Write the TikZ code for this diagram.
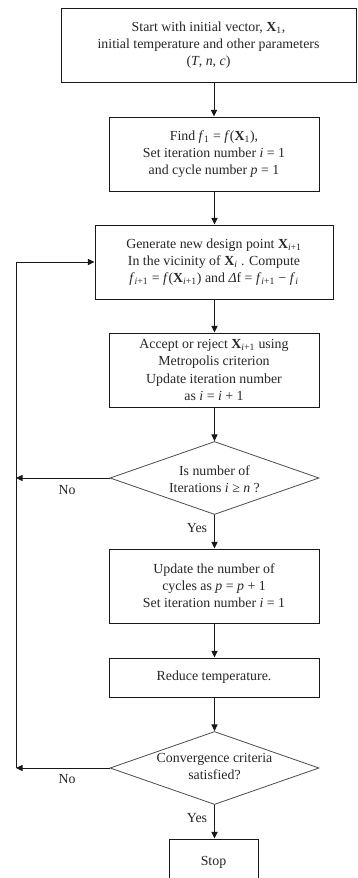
\documentclass[tikz,border=0pt]{standalone}
\usepackage{fontspec}
\setmainfont{Liberation Serif}
\usetikzlibrary{shapes.geometric,arrows.meta}
\def\u{0.75pt}
\tikzset{
  every node/.style={font=\fontsize{10.4}{12.8}\selectfont, text=black!85, align=center},
  box/.style={draw=black!90, line width=0.75pt, rectangle, inner sep=0pt},
  dia/.style={draw=black!70, line width=0.6pt, diamond, inner sep=0pt, minimum width=209*\u, minimum height=73*\u},
  arr/.style={line width=0.75pt, draw=black!90, -{Triangle[length=5pt,width=4.6pt]}},
  lab/.style={inner sep=0pt}
}
\begin{document}
\begin{tikzpicture}[x=\u, y=-\u]
\path[use as bounding box] (0,0) rectangle (357,878);
\node[box, minimum width=295*\u, minimum height=74*\u] (b1) at (208.5,45)
  {Start with initial vector, \textbf{X}\textsubscript{1},\\initial temperature and other parameters\\(\textit{T}, \textit{n}, \textit{c})};
\node[box, minimum width=210*\u, minimum height=74*\u] (b2) at (214,154)
  {Find \textit{f}\textsubscript{1} = \textit{f}(\textbf{X}\textsubscript{1}),\\Set iteration number \textit{i} = 1\\and cycle number \textit{p} = 1};
\node[box, minimum width=238*\u, minimum height=74*\u] (b3) at (214,262)
  {Generate new design point \textbf{X}\textsubscript{\textit{i}+1}\\In the vicinity of \textbf{X}\textsubscript{\textit{i}} . Compute\\\textit{f}\textsubscript{\textit{i}+1} = \textit{f}(\textbf{X}\textsubscript{\textit{i}+1}) and \textit{Δ}f = \textit{f}\textsubscript{\textit{i}+1} − \textit{f}\textsubscript{\textit{i}}};
\node[box, minimum width=210*\u, minimum height=74*\u] (b4) at (214,370)
  {Accept or reject \textbf{X}\textsubscript{\textit{i}+1} using\\Metropolis criterion\\Update iteration number\\as \textit{i} = \textit{i} + 1};
\node[dia, label={[align=center, yshift=-1pt]center:Is number of\\Iterations \textit{i} ≥ \textit{n} ?}] (d1) at (214.5,478) {};
\node[box, minimum width=210*\u, minimum height=74*\u] (b5) at (214,586)
  {Update the number of\\cycles as \textit{p} = \textit{p} + 1\\Set iteration number \textit{i} = 1};
\node[box, minimum width=210*\u, minimum height=39*\u] (b6) at (214,677.5) {Reduce temperature.};
\node[dia, label={[align=center, yshift=1pt]center:Convergence criteria\\satisfied?}] (d2) at (214.5,768) {};
\node[box, minimum width=89*\u, minimum height=50*\u, text depth=0pt, label={[yshift=1.5pt]center:Stop}] (stop) at (213.5,864) {};
\coordinate (loopT) at (16,262);
\coordinate (loopM) at (16,478);
\coordinate (loopB) at (16,768);
\draw[arr] (b1.south -| b2) -- (b2);
\draw[arr] (b2.south -| d1) -- (b3.north -| d1);
\draw[arr] (b3.south -| d1) -- (b4.north -| d1);
\draw[arr] (b4.south -| d1) -- (d1);
\draw[arr] (d1) -- (b5.north -| d1);
\draw[arr] (b5.south -| d1) -- (b6.north -| d1);
\draw[arr] (b6.south -| d1) -- (d2);
\draw[arr] (d2) -- (stop.north -| d2);
\draw[arr] (d1.west) -- (loopM);
\draw[arr] (d2.west) -- (loopB);
\draw[arr] (loopB) -- (loopT) -- (b3.west);
\node[lab] (no1) at (67,490) {No};
\node[lab] (yes1) at (197,528) {Yes};
\node[lab] (no2) at (67,779) {No};
\node[lab] (yes2) at (197,818) {Yes};
\end{tikzpicture}
\end{document}
